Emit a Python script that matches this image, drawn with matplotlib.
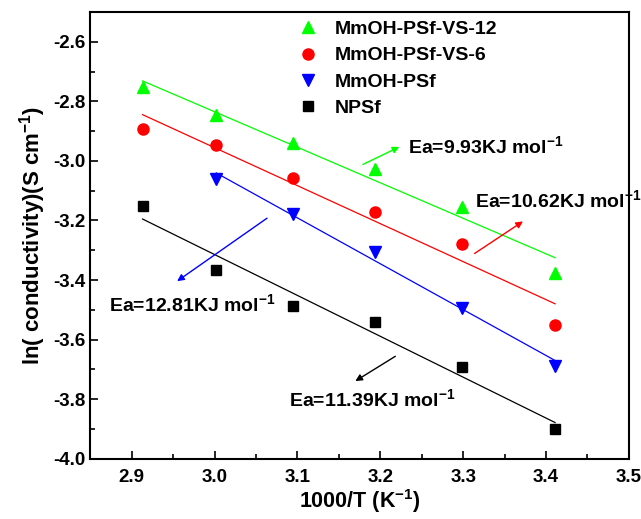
import numpy as np
import matplotlib
matplotlib.use('Agg')
import matplotlib.pyplot as plt
from matplotlib.ticker import MultipleLocator

plt.rcParams['font.family'] = ['Liberation Sans', 'DejaVu Sans']
plt.rcParams['font.weight'] = 'bold'
plt.rcParams['mathtext.fontset'] = 'custom'
plt.rcParams['mathtext.bf'] = 'Liberation Sans:bold'
plt.rcParams['mathtext.rm'] = 'Liberation Sans:bold'
plt.rcParams['mathtext.default'] = 'bf'
plt.rcParams['axes.unicode_minus'] = False

# 1000/T values
inv_T = [2.913, 3.002, 3.094, 3.193, 3.299, 3.411]

vs12 = [-2.753, -2.846, -2.941, -3.028, -3.155, -3.375]
vs6 = [-2.894, -2.945, -3.056, -3.173, -3.278, -3.551]
psf = [-3.061, -3.177, -3.305, -3.495, -3.687]   # no point at 2.913
npsf = [-3.151, -3.366, -3.487, -3.542, -3.692, -3.900]

series = [
    ('MmOH-PSf-VS-12', inv_T, vs12, '^', '#00ff00', 9),
    ('MmOH-PSf-VS-6', inv_T, vs6, 'o', '#ff0000', 8),
    ('MmOH-PSf', inv_T[1:], psf, 'v', '#0000ff', 9),
    ('NPSf', inv_T, npsf, 's', 'black', 6.5),
]

fig = plt.figure(figsize=(6.41, 5.19), dpi=100)
ax = fig.add_axes([0.141, 0.116, 0.840, 0.861])

for name, x, y, mk, c, ms in series:
    ax.plot(x, y, mk, color=c, ms=ms, label=name, linestyle='none')
    # linear fit for activation energy
    k, b = np.polyfit(x, y, 1)
    xx = np.array([x[0], x[-1]])
    ax.plot(xx, k * xx + b, '-', color=c, lw=0.9)

# Ea annotations (arrow start, arrow end, text position)
notes = [
    ('Ea=9.93KJ mol$^{-1}$', (3.176, -3.016), (3.226, -2.949), (3.233, -2.952), '#00ff00'),
    ('Ea=10.62KJ mol$^{-1}$', (3.311, -3.316), (3.375, -3.198), (3.314, -3.131), '#ff0000'),
    ('Ea=12.81KJ mol$^{-1}$', (3.066, -3.187), (2.952, -3.409), (2.873, -3.481), '#0000ff'),
    ('Ea=11.39KJ mol$^{-1}$', (3.221, -3.651), (3.167, -3.744), (3.090, -3.799), 'black'),
]
for txt, p0, p1, pt, c in notes:
    ax.annotate('', xy=p1, xytext=p0,
                arrowprops=dict(arrowstyle='-|>', color=c, lw=1, mutation_scale=10))
    ax.text(pt[0], pt[1], txt, fontsize=14, fontweight='bold', va='center', ha='left')

ax.set_xlim(2.85, 3.5)
ax.set_ylim(-4.0, -2.5)
ax.xaxis.set_major_locator(MultipleLocator(0.1))
ax.xaxis.set_minor_locator(MultipleLocator(0.05))
ax.yaxis.set_minor_locator(MultipleLocator(0.1))
ax.set_yticks(np.arange(-4.0, -2.55, 0.2))
ax.set_yticklabels(['%.1f' % v for v in np.arange(-4.0, -2.55, 0.2)])
ax.tick_params(which='both', direction='in', top=False, right=False, labelsize=13.5)
ax.tick_params(axis='x', which='major', pad=7)
ax.tick_params(which='major', length=6, width=1.2)
ax.tick_params(which='minor', length=3.5, width=1.2)
for s in ax.spines.values():
    s.set_linewidth(1.5)

ax.set_xlabel('1000/T (K$^{-1}$)', fontsize=15.5, fontweight='bold', labelpad=1)
ax.set_ylabel('ln( conductivity)(S cm$^{-1}$)', fontsize=16, fontweight='bold', labelpad=4)

ax.legend(loc='upper left', bbox_to_anchor=(0.345, 1.02), frameon=False, fontsize=14,
          numpoints=1, handletextpad=0.6, labelspacing=0.45, handlelength=1.5)

fig.savefig('out.png', dpi=100)
